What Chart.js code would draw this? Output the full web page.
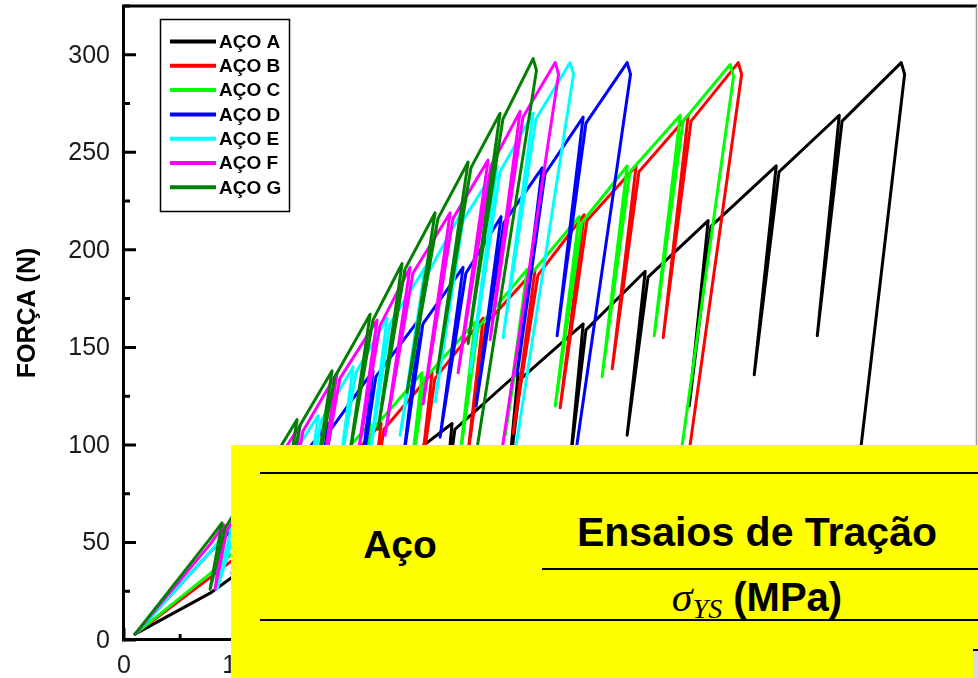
<!DOCTYPE html>
<html>
<head>
<meta charset="utf-8">
<script src="https://cdn.jsdelivr.net/npm/chart.js@4.4.1/dist/chart.umd.min.js"></script>
<style>
  body { margin: 0; background: #fff; }
  #wrap { position: relative; width: 978px; height: 678px; overflow: hidden; }
  #grafico { position: absolute; left: 0; top: 0; }
  #tabela { position: absolute; left: 231px; top: 445px; width: 747px; height: 233px; background: #ffff00;
            font-family: "Liberation Sans", Arial, sans-serif; font-weight: bold; color: #000; }
  .linha { position: absolute; height: 2px; background: #000; right: 0; }
  .txt { position: absolute; line-height: 1; text-align: center; white-space: nowrap; }
  .sigma { font-family: "Liberation Serif", "DejaVu Serif", serif; font-style: italic; font-weight: normal; }
  #canto { position: absolute; left: 973px; top: 649px; width: 5px; height: 27px; background: #d9d9d9; border-top: 2px solid #000; }
</style>
</head>
<body>
<div id="wrap">
  <canvas id="grafico" width="978" height="678"></canvas>
  <div id="tabela">
    <div class="linha" style="left:29px; top:27px;"></div>
    <div class="linha" style="left:311px; top:123px;"></div>
    <div class="linha" style="left:29px; top:174px;"></div>
    <div class="txt" style="left:69px; width:200px; top:80px; font-size:39px;">Aço</div>
    <div class="txt" style="left:300px; width:452px; top:67px; font-size:41px;">Ensaios de Tração</div>
    <div class="txt" style="left:300px; width:452px; top:131px; font-size:40px;"><span class="sigma" style="font-size:42px;">σ<sub style="font-size:28px; vertical-align:-7px;">YS</sub></span> (MPa)</div>
  </div>
  <div id="canto"></div>
</div>
<script>
// pontos [deslocamento, força (N)]
const acoA = [[0.98,3],[7.67,24],
  [16.31,60],[15.87,33],[16.56,57],
  [22.64,86],[22.02,48],[22.89,83],
  [29.23,111],[28.43,62],[29.48,108],
  [35.12,137],[34.14,77],[35.37,134],
  [40.91,162],[39.75,91],[41.16,159],
  [46.44,189],[44.83,105],[46.69,186],
  [52.05,215],[50.36,120],[52.30,212],
  [58.11,243],[56.15,136],[58.36,240],
  [63.73,269],[61.77,156],[63.98,266],
  [69.25,296],[69.55,290],[64.26,30]];

const acoB = [[0.98,3],[7.67,32],
  [13.90,60],[13.37,34],[14.15,57],
  [18.36,86],[17.65,48],[18.61,83],
  [22.91,111],[21.93,62],[23.16,108],
  [27.45,137],[26.29,77],[27.70,134],
  [32.00,165],[30.57,92],[32.25,162],
  [36.63,190],[34.67,106],[36.88,187],
  [41.00,218],[38.86,119],[41.25,215],
  [45.63,243],[43.50,139],[45.88,240],
  [50.27,269],[48.04,155],[50.52,266],
  [54.73,296],[55.03,290],[48.75,30]];

const acoC = [[0.98,3],[7.67,34],
  [12.66,60],[12.12,34],[12.91,57],
  [17.29,86],[16.58,48],[17.54,83],
  [21.93,111],[20.95,62],[22.18,108],
  [26.56,137],[25.40,77],[26.81,134],
  [31.28,163],[29.86,91],[31.53,160],
  [35.92,190],[33.96,105],[36.17,187],
  [40.55,217],[38.42,120],[40.80,214],
  [44.83,243],[42.60,135],[45.08,240],
  [49.56,269],[47.24,156],[49.81,266],
  [54.01,295],[54.31,289],[48.04,30]];

const acoD = [[0.98,3],[7.67,45],
  [10.16,60],[9.63,34],[10.41,57],
  [14.17,86],[13.37,48],[14.42,83],
  [18.18,111],[17.11,62],[18.43,108],
  [22.19,138],[20.95,77],[22.44,135],
  [26.38,165],[24.87,92],[26.63,162],
  [30.21,191],[28.16,104],[30.46,188],
  [33.60,217],[31.37,120],[33.85,214],
  [37.26,242],[35.03,136],[37.51,239],
  [40.91,268],[38.59,156],[41.16,265],
  [44.83,296],[45.13,290],[38.59,30]];

const acoE = [[0.98,3],[7.67,45],
  [9.63,59],[8.29,26],[9.88,56],
  [13.73,88],[12.83,49],[13.98,85],
  [17.29,115],[16.13,64],[17.54,112],
  [20.41,140],[18.98,78],[20.66,137],
  [23.44,165],[21.84,92],[23.69,162],
  [26.83,191],[24.60,105],[27.08,188],
  [29.95,218],[27.72,122],[30.20,215],
  [33.25,243],[30.84,137],[33.50,240],
  [36.45,270],[33.78,155],[36.70,267],
  [39.75,296],[40.05,290],[33.07,30]];

const acoF = [[0.98,3],[7.67,49],
  [8.91,59],[8.11,26],[9.16,56],
  [12.30,85],[11.41,48],[12.55,82],
  [15.69,110],[14.53,62],[15.94,107],
  [18.98,137],[17.47,77],[19.23,134],
  [22.55,164],[20.77,92],[22.80,161],
  [25.49,191],[23.26,105],[25.74,188],
  [29.06,219],[26.65,121],[29.31,216],
  [32.44,246],[29.77,137],[32.69,243],
  [35.29,271],[32.62,154],[35.54,268],
  [38.42,296],[38.72,290],[31.91,30]];

const acoG = [[0.98,3],[7.67,52],
  [8.73,60],[7.67,26],[8.98,57],
  [12.12,87],[11.14,49],[12.37,84],
  [15.42,113],[14.08,63],[15.67,110],
  [18.54,138],[16.93,78],[18.79,135],
  [21.93,167],[20.05,93],[22.18,164],
  [24.78,193],[22.64,108],[25.03,190],
  [27.72,219],[25.22,127],[27.97,216],
  [30.66,245],[27.90,137],[30.91,242],
  [33.51,270],[30.66,152],[33.76,267],
  [36.45,298],[36.75,292],[29.59,30]];

const nomes = ['AÇO A','AÇO B','AÇO C','AÇO D','AÇO E','AÇO F','AÇO G'];
const cores = ['#000000','#ff0000','#00ff00','#0000ff','#00ffff','#ff00ff','#008000'];
const series = [acoA, acoB, acoC, acoD, acoE, acoF, acoG];

const yTicks = [0, 50, 100, 150, 200, 250, 300];
const xTicks = [0, 10, 20, 30, 40, 50, 60, 70];

const fonte = '"Liberation Sans", Arial, sans-serif';

// eixos, marcas internas, rótulos e legenda
const eixos = {
  id: 'eixos',
  afterDraw(chart) {
    const {ctx, chartArea: a, scales: {x, y}} = chart;
    ctx.save();
    ctx.strokeStyle = '#000';
    ctx.lineWidth = 3;
    ctx.beginPath();
    ctx.moveTo(a.left - 0.5, a.top - 1.5); ctx.lineTo(a.left - 0.5, a.bottom + 1.5);
    ctx.moveTo(a.left - 2, a.top); ctx.lineTo(a.right, a.top);
    ctx.moveTo(a.left - 2, a.bottom - 0.5); ctx.lineTo(a.right, a.bottom - 0.5);
    ctx.stroke();
    ctx.strokeStyle = '#999';
    ctx.lineWidth = 1.5;
    ctx.beginPath();
    ctx.moveTo(a.right - 0.5, a.top); ctx.lineTo(a.right - 0.5, a.bottom);
    ctx.stroke();

    // marcas internas
    ctx.strokeStyle = '#000';
    ctx.lineWidth = 3;
    ctx.beginPath();
    for (let v = 0; v <= 325; v += 25) {
      const py = y.getPixelForValue(v);
      const len = v % 50 === 0 ? 12 : 6;
      ctx.moveTo(a.left, py); ctx.lineTo(a.left + len, py);
    }
    for (let v = 0; v <= 75; v += 5) {
      const px = x.getPixelForValue(v);
      const len = v % 10 === 0 ? 12 : 6;
      ctx.moveTo(px, a.bottom); ctx.lineTo(px, a.bottom - len);
    }
    ctx.stroke();

    ctx.fillStyle = '#1a1a1a';
    ctx.font = '25px ' + fonte;
    ctx.textAlign = 'right';
    ctx.textBaseline = 'middle';
    yTicks.forEach(v => ctx.fillText(String(v), 110, y.getPixelForValue(v) + 1));
    ctx.textAlign = 'center';
    xTicks.forEach(v => ctx.fillText(String(v), x.getPixelForValue(v), 666));

    // título do eixo y
    ctx.save();
    ctx.translate(28, 313);
    ctx.rotate(-Math.PI / 2);
    ctx.fillStyle = '#000';
    ctx.font = 'bold 25px ' + fonte;
    ctx.fillText('FORÇA (N)', 0, 0);
    ctx.restore();

    // legenda
    ctx.fillStyle = '#fff';
    ctx.fillRect(160, 19, 129, 192);
    ctx.strokeStyle = '#000';
    ctx.lineWidth = 1.5;
    ctx.strokeRect(160.5, 19.5, 129, 192);
    ctx.font = 'bold 19px ' + fonte;
    ctx.textAlign = 'left';
    nomes.forEach((n, i) => {
      const yy = 41.5 + i * 24.3;
      ctx.strokeStyle = cores[i];
      ctx.lineWidth = 4;
      ctx.beginPath();
      ctx.moveTo(170, yy); ctx.lineTo(216, yy);
      ctx.stroke();
      ctx.fillStyle = '#000';
      ctx.fillText(n, 219, yy + 1);
    });
    ctx.restore();
  }
};

new Chart(document.getElementById('grafico'), {
  type: 'scatter',
  data: {
    datasets: series.map((s, i) => ({
      label: nomes[i],
      data: s.map(p => ({x: p[0], y: p[1]})),
      showLine: true,
      borderColor: cores[i],
      backgroundColor: cores[i],
      borderWidth: 3,
      pointRadius: 0,
      borderJoinStyle: 'round',
      borderCapStyle: 'round',
      order: 7 - i
    }))
  },
  options: {
    responsive: false,
    animation: false,
    devicePixelRatio: 1,
    layout: { padding: { left: 124, right: 1, top: 6, bottom: 38 } },
    plugins: { legend: { display: false }, tooltip: { enabled: false } },
    scales: {
      x: { type: 'linear', min: 0, max: 76, display: false },
      y: { type: 'linear', min: 0, max: 325, display: false }
    }
  },
  plugins: [eixos]
});
</script>
</body>
</html>
